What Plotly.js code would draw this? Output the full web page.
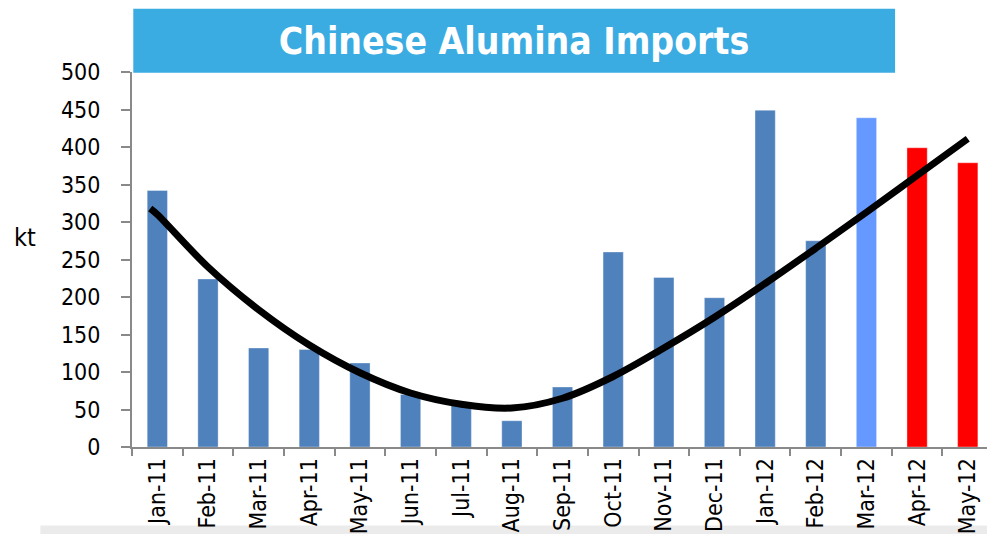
<!DOCTYPE html>
<html>
<head>
<meta charset="utf-8">
<script src="https://cdn.plot.ly/plotly-3.0.1.min.js"></script>
<style>html,body{margin:0;padding:0;background:#fff;}#chart{width:987px;height:534px;}</style>
</head>
<body>
<div id="chart"></div>
<script>
// Data
const months = ["Jan-11","Feb-11","Mar-11","Apr-11","May-11","Jun-11","Jul-11","Aug-11","Sep-11",
                "Oct-11","Nov-11","Dec-11","Jan-12","Feb-12","Mar-12","Apr-12","May-12"];
const imports = [342, 224, 132, 130, 112, 70, 58, 35, 80, 260, 226, 199, 449, 275, 439, 399, 379];
const barColors = ["#4F81BD","#4F81BD","#4F81BD","#4F81BD","#4F81BD","#4F81BD","#4F81BD","#4F81BD","#4F81BD",
                   "#4F81BD","#4F81BD","#4F81BD","#4F81BD","#4F81BD","#6699FF","#FF0000","#FF0000"];
// Trend curve (position in category units, value in kt)
const trendX = [-0.14, 0, 1, 2, 3, 4, 5, 6, 7, 8, 9, 10, 11, 12, 13, 14, 15, 16];
const trendY = [318, 310, 240, 183, 136, 99, 72, 57, 52, 65, 94, 132, 173, 218, 265, 313, 362, 411];
const yTicks = [0, 50, 100, 150, 200, 250, 300, 350, 400, 450, 500];

const font = "DejaVu Sans Condensed, DejaVu Sans, sans-serif";

const bars = {
  type: "bar",
  x: months,
  y: imports,
  width: 0.4,
  marker: {color: barColors, line: {color: "rgba(255,255,255,0.35)", width: 1}},
  hoverinfo: "x+y",
  showlegend: false
};
const trend = {
  type: "scatter",
  mode: "lines",
  x: trendX,
  y: trendY,
  xaxis: "x2",
  line: {color: "#000000", width: 7, shape: "spline", smoothing: 1.0},
  showlegend: false,
  hoverinfo: "skip"
};

const layout = {
  width: 987, height: 534,
  margin: {l: 131.7, r: 0, t: 71.5, b: 87, pad: 0},
  paper_bgcolor: "#ffffff", plot_bgcolor: "#ffffff",
  showlegend: false,
  title: {
    text: "<b>Chinese Alumina Imports</b>",
    font: {family: font, size: 37, color: "#ffffff"},
    x: 514 / 987, xref: "container", xanchor: "center",
    y: 1 - 41 / 534, yref: "container", yanchor: "middle"
  },
  xaxis: {
    type: "category",
    range: [-0.5, 16.38],
    tickson: "boundaries",
    ticks: "outside", ticklen: 7, tickwidth: 2, tickcolor: "#898989",
    showline: true, linecolor: "#898989", linewidth: 2,
    showgrid: false, zeroline: false,
    tickangle: -90,
    tickfont: {family: font, size: 23, color: "#000000"},
    fixedrange: true
  },
  xaxis2: {
    type: "linear", overlaying: "x", range: [-0.5, 16.38],
    visible: false, fixedrange: true
  },
  yaxis: {
    range: [0, 500],
    tickvals: yTicks,
    ticktext: yTicks.map(String),
    ticks: "outside", ticklen: 9, tickwidth: 2, tickcolor: "#898989",
    showline: true, linecolor: "#898989", linewidth: 2,
    showgrid: false, zeroline: false,
    tickfont: {family: font, size: 23, color: "#000000"},
    ticklabelstandoff: 16,
    fixedrange: true
  },
  shapes: [
    {type: "rect", xref: "paper", yref: "paper", x0: 0.0015, x1: 0.8925, y0: 0.998, y1: 1.169,
     fillcolor: "#3AACE2", line: {width: 0}, layer: "below"},
    {type: "rect", xref: "paper", yref: "paper", x0: -0.1072, x1: 1.0, y0: -0.2317, y1: -0.2096,
     fillcolor: "#EBEBEB", line: {width: 0}, layer: "below"}
  ],
  annotations: [
    {text: "kt", xref: "paper", yref: "paper", x: -0.1254, y: (447 - 237) / 375.5,
     xanchor: "center", yanchor: "middle", showarrow: false,
     font: {family: font, size: 25, color: "#000000"}}
  ]
};

Plotly.newPlot("chart", [bars, trend], layout, {displayModeBar: false, staticPlot: true});
</script>
</body>
</html>
